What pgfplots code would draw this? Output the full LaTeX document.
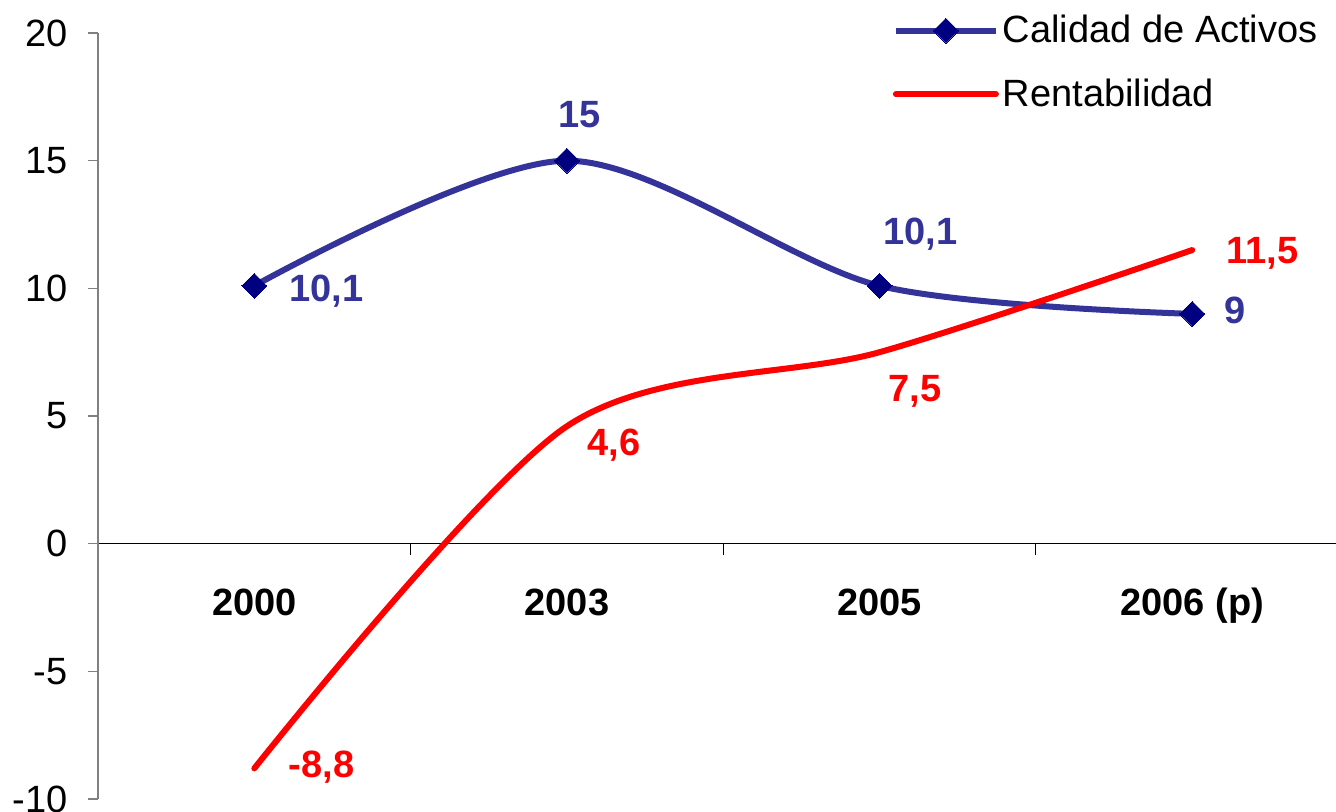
\documentclass[border=0pt]{standalone}
\usepackage{fontspec}
\setmainfont{Liberation Sans}
\usepackage{pgfplots}
\pgfplotsset{compat=1.18}

\definecolor{calidad}{HTML}{333399}
\definecolor{calidadmark}{HTML}{000080}
\definecolor{rentab}{HTML}{FF0000}
\newcommand\f{\fontsize{19}{23}\selectfont}

\begin{document}
\begin{tikzpicture}
\begin{axis}[
    scale only axis, width=619pt, height=383pt,
    xmin=-0.5, xmax=3.46, ymin=-10, ymax=20,
    axis x line*=middle, axis y line*=left,
    clip=false,
    ytick={-10,-5,...,20},
    xtick={0,1,2,3},
    xticklabels={2000,2003,2005,2006 (p)},
    minor xtick={0.5,1.5,2.5},
    tick align=outside,
    major tick length=5pt, minor tick length=5.5pt,
    major x tick style={draw=none},
    minor x tick style={black, line width=0.6pt},
    y tick style={gray, line width=0.65pt},
    x axis line style={black, line width=0.7pt},
    y axis line style={gray, line width=0.65pt},
    /pgf/number format/assume math mode=true,
    yticklabel style={font=\f, inner sep=0pt, anchor=east, xshift=-10pt},
    xticklabel style={font=\f\bfseries, inner sep=0pt, anchor=base, yshift=-31pt},
    legend style={draw=none, fill=none, font=\f, at={(axis description cs:1,1)},
        anchor=north east, xshift=-7pt, yshift=11pt, inner sep=0pt,
        row sep=12.5pt, cells={anchor=west}},
    legend image code/.code={
        \draw[mark repeat=2, mark phase=2, #1]
            plot coordinates {(0pt,0pt) (25pt,0pt) (50pt,0pt)};},
]
\addplot[calidad, line width=3pt, smooth, mark=square*,
    mark size=4.4pt, mark options={calidadmark, fill=calidadmark, rotate=45, line width=0pt}]
    coordinates {(0,10.1) (1,15) (2,10.1) (3,9)};
\addlegendentry{Calidad de Activos}
\addplot[rentab, line width=3pt, smooth, line cap=round]
    coordinates {(0,-8.8) (1,4.6) (2,7.5) (3,11.5)};
\addlegendentry{Rentabilidad}

\begin{scope}[every node/.style={font=\f\bfseries, inner sep=0pt}]
\node[calidad, anchor=base west, xshift=17.5pt, yshift=-8.1pt] at (0,10.1) {10,1};
\node[calidad, anchor=base, xshift=6.5pt, yshift=16.4pt] at (1,15) {15};
\node[calidad, anchor=base west, xshift=1.8pt, yshift=20.4pt] at (2,10.1) {10,1};
\node[calidad, anchor=base west, xshift=16pt, yshift=-5pt] at (3,9) {9};
\node[rentab, anchor=base west, xshift=17pt, yshift=-4.8pt] at (0,-8.8) {-8,8};
\node[rentab, anchor=base west, xshift=10pt, yshift=-14.4pt] at (1,4.6) {4,6};
\node[rentab, anchor=base west, xshift=4.4pt, yshift=-24.9pt] at (2,7.5) {7,5};
\node[rentab, anchor=base west, xshift=17pt, yshift=-6.5pt] at (3,11.5) {11,5};
\end{scope}
\end{axis}
\pgfresetboundingbox
\useasboundingbox (-49pt,-6pt) rectangle (619pt,399.5pt);
\end{tikzpicture}
\end{document}
